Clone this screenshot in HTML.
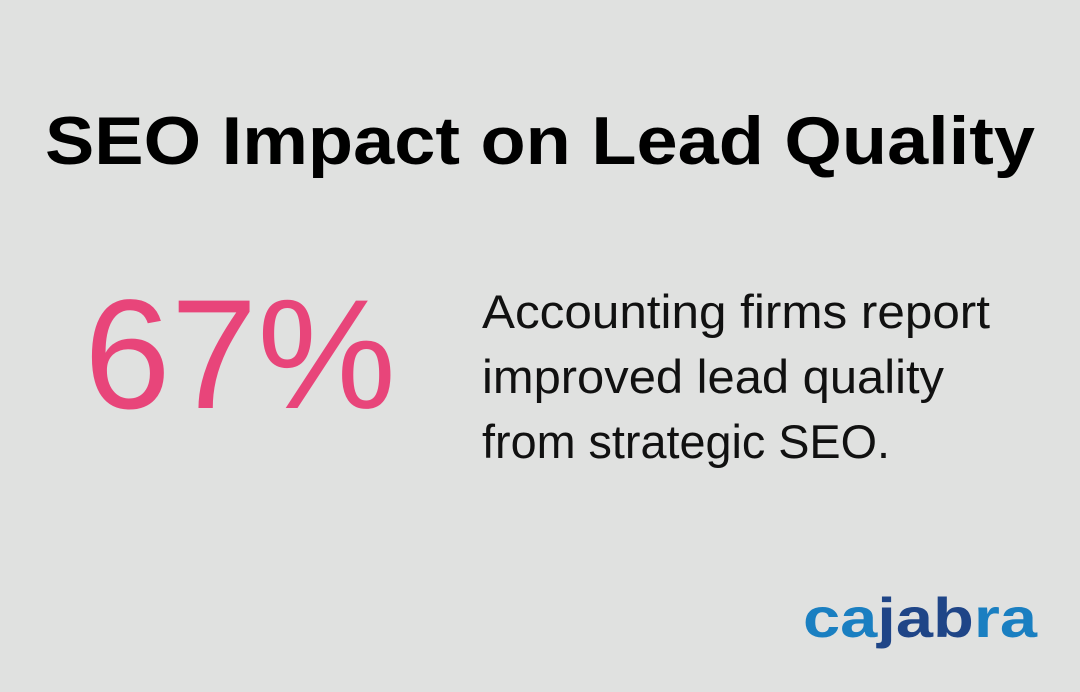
<!DOCTYPE html>
<html><head><style>
html,body{margin:0;padding:0;background:#e0e1e0;}
svg{display:block}
</style></head><body>
<svg width="1080" height="692" xmlns="http://www.w3.org/2000/svg">
<rect width="1080" height="692" fill="#e0e1e0"/>
<text x="45" y="164" font-family="Liberation Sans, sans-serif" font-weight="bold" font-size="68" fill="#000" textLength="990" lengthAdjust="spacingAndGlyphs">SEO Impact on Lead Quality</text>
<text x="84" y="408" font-family="Liberation Sans, sans-serif" font-size="156" fill="#e8457a" textLength="312" lengthAdjust="spacingAndGlyphs">67%</text>
<g font-family="Liberation Sans, sans-serif" font-size="47" fill="#111">
<text x="482" y="328" textLength="508" lengthAdjust="spacingAndGlyphs">Accounting firms report</text>
<text x="482" y="393" textLength="462" lengthAdjust="spacingAndGlyphs">improved lead quality</text>
<text x="482" y="458" textLength="408" lengthAdjust="spacingAndGlyphs">from strategic SEO.</text>
</g>
<text x="803" y="637" font-family="Liberation Sans, sans-serif" font-weight="bold" font-size="56" textLength="234" lengthAdjust="spacingAndGlyphs"><tspan fill="#1a7fc1">ca</tspan><tspan fill="#1f4587">jab</tspan><tspan fill="#1a7fc1">ra</tspan></text>
</svg>
</body></html>
